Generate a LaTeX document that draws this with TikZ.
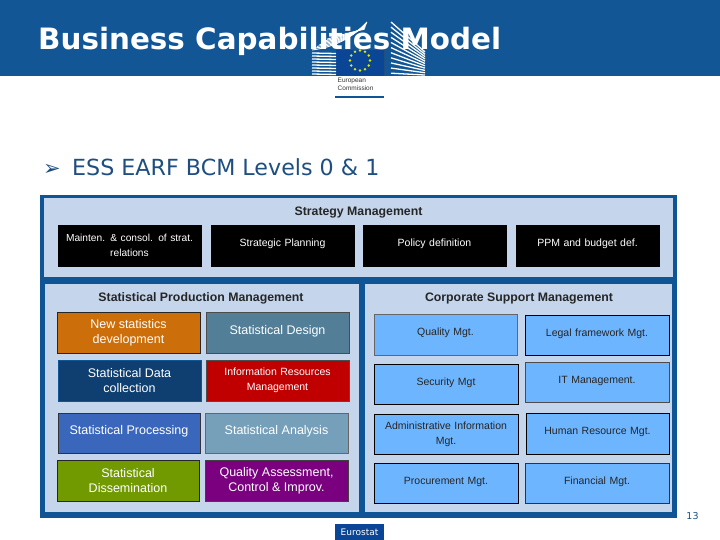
\documentclass[tikz,border=0pt]{standalone}
\usepackage{fontspec}
\setmainfont{Liberation Sans}
\newfontfamily\verd{DejaVu Sans}
\definecolor{hdr}{HTML}{125696}
\definecolor{frameblue}{HTML}{0F5596}
\definecolor{panel}{HTML}{C4D5EC}
\definecolor{navytxt}{HTML}{1F4F80}
\definecolor{skyb}{HTML}{6EB5FF}
\definecolor{flag}{HTML}{0B4595}
\definecolor{corange}{HTML}{CC6E0A}
\definecolor{cdesign}{HTML}{527E97}
\definecolor{cdata}{HTML}{0E3F70}
\definecolor{cred}{HTML}{C00000}
\definecolor{cproc}{HTML}{3A67BB}
\definecolor{canal}{HTML}{76A0BA}
\definecolor{cgreen}{HTML}{709A00}
\definecolor{cpurple}{HTML}{7A0080}
\newcommand{\bx}[9][black]{%
  \node[cell,draw=#1,fill=#7,text=#8,minimum width={(#4-#2)*1pt},minimum height={(#5-#3)*1pt},text width={(#4-#2-6)*1pt}]
    at ({(#2+#4)/2},{(#3+#5)/2}) (#6) {\vspace*{2.6pt}#9}}
\tikzset{
  cell/.style={rectangle,inner sep=0pt,outer sep=0pt,line width=0.8pt,align=center,font=\fontsize{10.5}{12}\selectfont},
  panelhead/.style={inner sep=0pt,font=\bfseries\fontsize{12.3}{14}\selectfont,text=black!85},
}
\begin{document}
\begin{tikzpicture}[x=1pt,y=-1pt]
\useasboundingbox (0,0) rectangle (720,540);
\fill[white] (0,0) rectangle (720,540);
\fill[hdr] (0,0) rectangle (720,76);
% logo
\fill[flag] (336,50) rectangle (384,76);
\foreach \a in {0,30,...,330}
  \fill[yellow!85!green] ({360+10*cos(\a)},{60.5+10*sin(\a)}) circle (1.4);
\begin{scope}[white]
  \foreach \y in {53,56,...,75}
    \draw[line width=1.3pt] (312,\y) -- (336,\y+0.5);
  \foreach \i in {0,1,...,6}
    \draw[line width=0.9pt] ({312+\i*2.5},{50-\i*1.8}) .. controls ({335+\i},{47-\i*2}) and ({352},{38-\i}) .. ({367-\i*0.4},{22+\i*1.2});
  \foreach \y in {0,3.2,...,32}
    \draw[line width=1.3pt] (391,{22+\y*1.6}) -- (425,{52+\y*0.72});
\end{scope}
\draw[navytxt,line width=0.4pt] (384,50) -- (384,76);
\node[anchor=north west,inner sep=0pt,align=left,text=black!80,font=\fontsize{6.5}{8.5}\selectfont] (ec) at (337.5,77.5) {European\\Commission};
\draw[frameblue,line width=1.8pt] (335,97) -- (384,97);
% title
\node[anchor=base west,inner sep=0pt,text=white,font=\verd\bfseries\fontsize{29.4}{32}\selectfont] (title) at (38,50) {Business Capabilities Model};
\node[anchor=base west,inner sep=0pt,text=navytxt,font=\verd\fontsize{21}{24}\selectfont] (bul) at (43,176) {➢};
\node[anchor=base west,inner sep=0pt,text=navytxt,font=\verd\fontsize{22.2}{26}\selectfont] (sub) at (72,176) {ESS EARF BCM Levels 0 \& 1};
% frame
\fill[frameblue] (40,195) rectangle (677,518);
\fill[panel] (44,198) rectangle (673,277);
\fill[panel] (45,284) rectangle (359,512);
\fill[panel] (365,284) rectangle (672,512);
\node[panelhead] (h1) at (358.5,212.5) {Strategy Management};
\node[panelhead] (h2) at (201,298.5) {Statistical Production Management};
\node[panelhead] (h3) at (519,298.5) {Corporate Support Management};
% strategy
\bx{58}{225}{201}{266}{s1}{black}{white}{\fontsize{10.2}{12}\selectfont Mainten. \& consol. of strat.\\relations};
\bx{211}{225}{354}{266}{s2}{black}{white}{Strategic Planning};
\bx{363}{225}{506}{266}{s3}{black}{white}{Policy definition};
\bx{516}{225}{659}{266}{s4}{black}{white}{PPM and budget def.};
% production
\bx[black!85]{57}{312}{200}{353}{p1}{corange}{white}{\fontsize{12.5}{15}\selectfont New statistics\\development};
\bx[black!70]{206}{312}{349}{353}{p2}{cdesign}{white}{\fontsize{12.5}{15}\selectfont Statistical Design};
\bx[frameblue]{58}{360}{201}{401}{p3}{cdata}{white}{\fontsize{12.5}{15}\selectfont Statistical Data\\collection};
\bx[black!70]{206}{360}{349}{401}{p4}{cred}{white}{Information Resources\\Management};
\bx[black!80]{58}{413}{200}{453}{p5}{cproc}{white}{\fontsize{12.5}{15}\selectfont Statistical Processing};
\bx[black!60]{205}{413}{348}{453}{p6}{canal}{white}{\fontsize{12.5}{15}\selectfont Statistical Analysis};
\bx[black!85]{57}{460}{199}{501}{p7}{cgreen}{white}{\fontsize{12.5}{15}\selectfont Statistical\\Dissemination};
\bx[black!75]{205}{460}{348}{501}{p8}{cpurple}{white}{\fontsize{12.5}{15}\selectfont Quality Assessment,\\Control \& Improv.};
% corporate
\bx[black!60]{374}{314}{517}{355}{c1}{skyb}{black!85}{Quality Mgt.};
\bx{525}{315}{669}{355}{c2}{skyb}{black!85}{Legal framework Mgt.};
\bx{374}{364}{518}{404}{c3}{skyb}{black!85}{Security Mgt};
\bx[black!70]{525}{362}{669}{402}{c4}{skyb}{black!85}{IT Management.};
\bx{374}{414}{518}{454}{c5}{skyb}{black!85}{Administrative Information\\Mgt.};
\bx{526}{413}{669}{454}{c6}{skyb}{black!85}{Human Resource Mgt.};
\bx{374}{463}{518}{503}{c7}{skyb}{black!85}{Procurement Mgt.};
\bx[black!80]{525}{463}{669}{503}{c8}{skyb}{black!85}{Financial Mgt.};
% footer
\node[rectangle,fill=flag,inner sep=0pt,minimum width=49pt,minimum height=16pt,text=white,font=\verd\fontsize{9}{10}\selectfont] (eu) at (359.5,532) {Eurostat};
\node[inner sep=0pt,text=navytxt,font=\verd\fontsize{9.5}{10}\selectfont] (pg) at (692.5,516) {13};
\end{tikzpicture}
\end{document}
